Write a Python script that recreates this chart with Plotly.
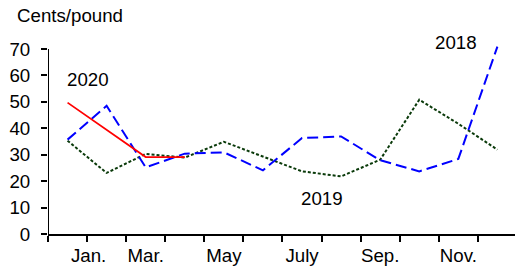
import plotly.graph_objects as go

months = list(range(1, 13))
month_tick_labels = ["Jan.", "Mar.", "May", "July", "Sep.", "Nov."]
month_tick_pos = [1.54, 3, 5, 7, 9, 11]
boundary_ticks = [0.5 + i for i in range(12)]
y_ticks = [0, 10, 20, 30, 40, 50, 60, 70]

v2018 = [35.7, 48.5, 25.2, 30.4, 30.9, 24.1, 36.3, 36.9, 27.9, 23.7, 28.4, 70.9]
v2019 = [35.3, 23.1, 30.3, 28.9, 34.9, 29.3, 23.7, 21.8, 28.1, 50.8, 41.7, 31.9]
m2020 = [1, 2, 3, 4]
v2020 = [49.7, 39.4, 29.1, 29.1]

FONT = "Liberation Sans, Arial, sans-serif"
FS = 18.7

fig = go.Figure()
fig.add_trace(go.Scatter(x=months, y=v2019, mode="lines", name="2019",
                         line=dict(color="#0A3A0A", width=2, dash="3px,2px")))
fig.add_trace(go.Scatter(x=months, y=v2018, mode="lines", name="2018",
                         line=dict(color="#0000FF", width=2, dash="11px,5px")))
fig.add_trace(go.Scatter(x=m2020, y=v2020, mode="lines", name="2020",
                         line=dict(color="#FF0000", width=1.8)))

# invisible trace on overlay axis for month labels
fig.add_trace(go.Scatter(x=month_tick_pos, y=[0] * len(month_tick_pos), xaxis="x2",
                         mode="markers", marker=dict(opacity=0), showlegend=False,
                         hoverinfo="skip"))

xr = [0.5, 12.45]
fig.update_layout(
    width=515, height=273,
    margin=dict(l=48, r=0, t=45, b=38.5),
    paper_bgcolor="white", plot_bgcolor="white",
    showlegend=False,
    font=dict(family=FONT, size=FS, color="black"),
    xaxis=dict(range=xr, tickvals=boundary_ticks, showticklabels=False,
               ticks="outside", ticklen=6, tickwidth=1.5, tickcolor="black",
               showline=True, linecolor="black", linewidth=2,
               showgrid=False, zeroline=False),
    xaxis2=dict(range=xr, overlaying="x", side="bottom", anchor="y",
                tickvals=month_tick_pos, ticktext=month_tick_labels,
                ticks="", showline=False, showgrid=False, zeroline=False,
                ticklabelstandoff=8,
                tickfont=dict(family=FONT, size=FS, color="black")),
    yaxis=dict(range=[0, 71.5], tickvals=y_ticks,
               ticks="outside", ticklen=6, tickwidth=1.5, tickcolor="black",
               showline=False, showgrid=False, zeroline=False,
               ticklabelstandoff=7,
               tickfont=dict(family=FONT, size=FS, color="black")),
    shapes=[dict(type="line", xref="x", yref="y", x0=0.5, x1=0.5, y0=0, y1=70,
                 line=dict(color="black", width=2))],
    annotations=[
        dict(text="Cents/pound", x=0, y=1.0, xref="paper", yref="paper",
             xanchor="left", yanchor="middle", showarrow=False,
             font=dict(family=FONT, size=FS), xshift=-33, yshift=30),
        dict(text="2020", x=1.52, y=58.5, xref="x", yref="y", showarrow=False,
             font=dict(family=FONT, size=FS)),
        dict(text="2018", x=10.95, y=70, xref="x", yref="y", showarrow=False,
             yshift=6, font=dict(family=FONT, size=FS)),
        dict(text="2019", x=7.5, y=13.5, xref="x", yref="y", showarrow=False,
             font=dict(family=FONT, size=FS)),
    ],
)
fig.write_html("out.html", config={"displayModeBar": False},
               post_script="document.body.style.margin='0';document.body.style.padding='0';")
